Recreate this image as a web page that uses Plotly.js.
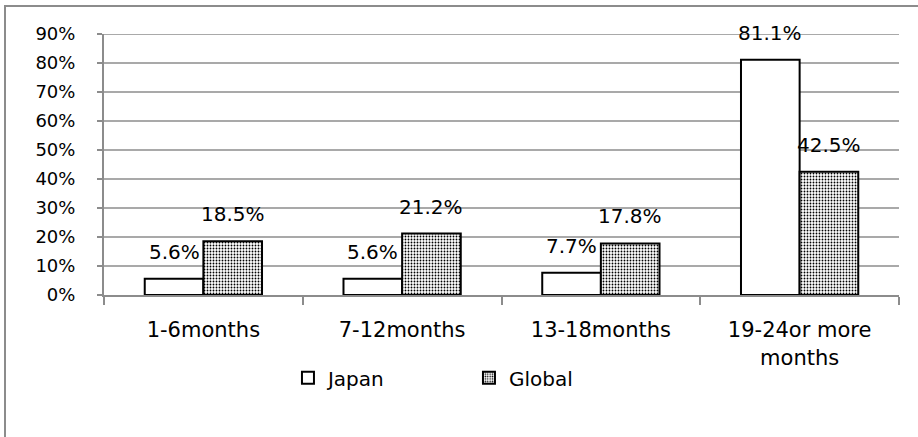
<!DOCTYPE html>
<html>
<head>
<meta charset="utf-8">
<script src="https://cdn.plot.ly/plotly-3.0.1.min.js"></script>
<style>
  html, body { margin: 0; padding: 0; overflow: hidden; background: #fff; }
  #wrap { position: relative; width: 918px; height: 437px; }
  #chart { width: 918px; height: 437px; }
  /* chart-area frame, open on the right and bottom */
  #frame { position: absolute; left: 4px; top: 5px; width: 2000px; height: 2000px;
           border-left: 2px solid #8c8c8c; border-top: 2px solid #8c8c8c;
           background: transparent; pointer-events: none; }
</style>
</head>
<body>
<div id="wrap">
  <div id="chart"></div>
  <div id="frame"></div>
</div>
<script>
// Tenure breakdown, share of respondents (%)
const categories = ['1-6months', '7-12months', '13-18months', '19-24or more<br>months'];
const japanValues = [5.6, 5.6, 7.7, 81.1];
const globalValues = [18.5, 21.2, 17.8, 42.5];
const seriesNames = ['Japan', 'Global'];
const yTickValues = [0, 10, 20, 30, 40, 50, 60, 70, 80, 90];
const yTickLabels = ['0%', '10%', '20%', '30%', '40%', '50%', '60%', '70%', '80%', '90%'];

const FONT = 'DejaVu Sans, sans-serif';
const GRID = '#8c8c8c';
const W = 918, H = 437;
const margin = { l: 104, r: 19, t: 34, b: 142 };
const bargap = 0.41;

const plotW = W - margin.l - margin.r;
const catW = plotW / categories.length;
const barW = (1 - bargap) * catW / 2;

// Gridlines live on the base subplot (x: hidden 0..1 axis); the bars sit on an
// overlaid category axis (x2) so they are painted on top of the gridlines.
const gridX = [], gridY = [];
yTickValues.filter(v => v > 0).forEach(v => {
  gridX.push(0, 1, null);
  gridY.push(v, v, null);
});

const traces = [
  {
    type: 'scatter', mode: 'lines', x: gridX, y: gridY, xaxis: 'x', yaxis: 'y',
    line: { color: GRID, width: 1.5 }, connectgaps: false, cliponaxis: false,
    showlegend: false, hoverinfo: 'skip'
  },
  {
    type: 'bar', name: seriesNames[0], x: categories, y: japanValues, xaxis: 'x2', yaxis: 'y',
    marker: { color: '#ffffff', line: { color: '#000000', width: 2 } },
    hoverinfo: 'skip'
  },
  {
    type: 'bar', name: seriesNames[1], x: categories, y: globalValues, xaxis: 'x2', yaxis: 'y',
    marker: {
      color: '#ffffff',
      line: { color: '#000000', width: 2 },
      pattern: { shape: '.', fgcolor: '#000000', bgcolor: '#ffffff', size: 3, solidity: 0.3 }
    },
    hoverinfo: 'skip'
  }
];

// value labels sit a little above each bar
const annotations = [];
[japanValues, globalValues].forEach((vals, s) => {
  const shift = (s === 0 ? -1 : 1) * barW / 2;
  vals.forEach((v, i) => {
    annotations.push({
      x: categories[i], y: v, xref: 'x2', yref: 'y',
      xshift: shift, yshift: 13, yanchor: 'bottom',
      text: v.toFixed(1) + '%', showarrow: false,
      font: { family: FONT, size: 20, color: '#000000' }
    });
  });
});

const layout = {
  width: W, height: H, margin: margin,
  paper_bgcolor: '#ffffff', plot_bgcolor: 'rgba(0,0,0,0)',
  barmode: 'group', bargap: bargap, bargroupgap: 0,
  font: { family: FONT, color: '#000000' },
  showlegend: true,
  legend: {
    orientation: 'h', x: 0.2314, xanchor: 'left', y: -0.317, yanchor: 'middle',
    font: { family: FONT, size: 20, color: '#000000' },
    entrywidth: 136, entrywidthmode: 'pixels',
    bgcolor: 'rgba(0,0,0,0)', borderwidth: 0, traceorder: 'normal'
  },
  xaxis: {
    type: 'linear', range: [0, 1], visible: false, fixedrange: true
  },
  xaxis2: {
    type: 'category', overlaying: 'x', anchor: 'y', side: 'bottom',
    range: [-0.5, categories.length - 0.5],
    showline: true, linecolor: GRID, linewidth: 2,
    ticks: 'outside', tickson: 'boundaries', ticklen: 8, tickcolor: GRID, tickwidth: 2,
    showgrid: false, zeroline: false,
    tickfont: { family: FONT, size: 21, color: '#000000' },
    ticklabelstandoff: 15, fixedrange: true
  },
  yaxis: {
    type: 'linear', range: [0, 90], tickmode: 'array', tickvals: yTickValues, ticktext: yTickLabels,
    showline: true, linecolor: GRID, linewidth: 2,
    ticks: 'outside', ticklen: 5, tickcolor: GRID, tickwidth: 2,
    showgrid: false, zeroline: false,
    tickfont: { family: FONT, size: 18, color: '#000000' },
    ticklabelstandoff: 18, fixedrange: true
  },
  annotations: annotations
};

Plotly.newPlot('chart', traces, layout, { displayModeBar: false, staticPlot: true });
</script>
</body>
</html>
